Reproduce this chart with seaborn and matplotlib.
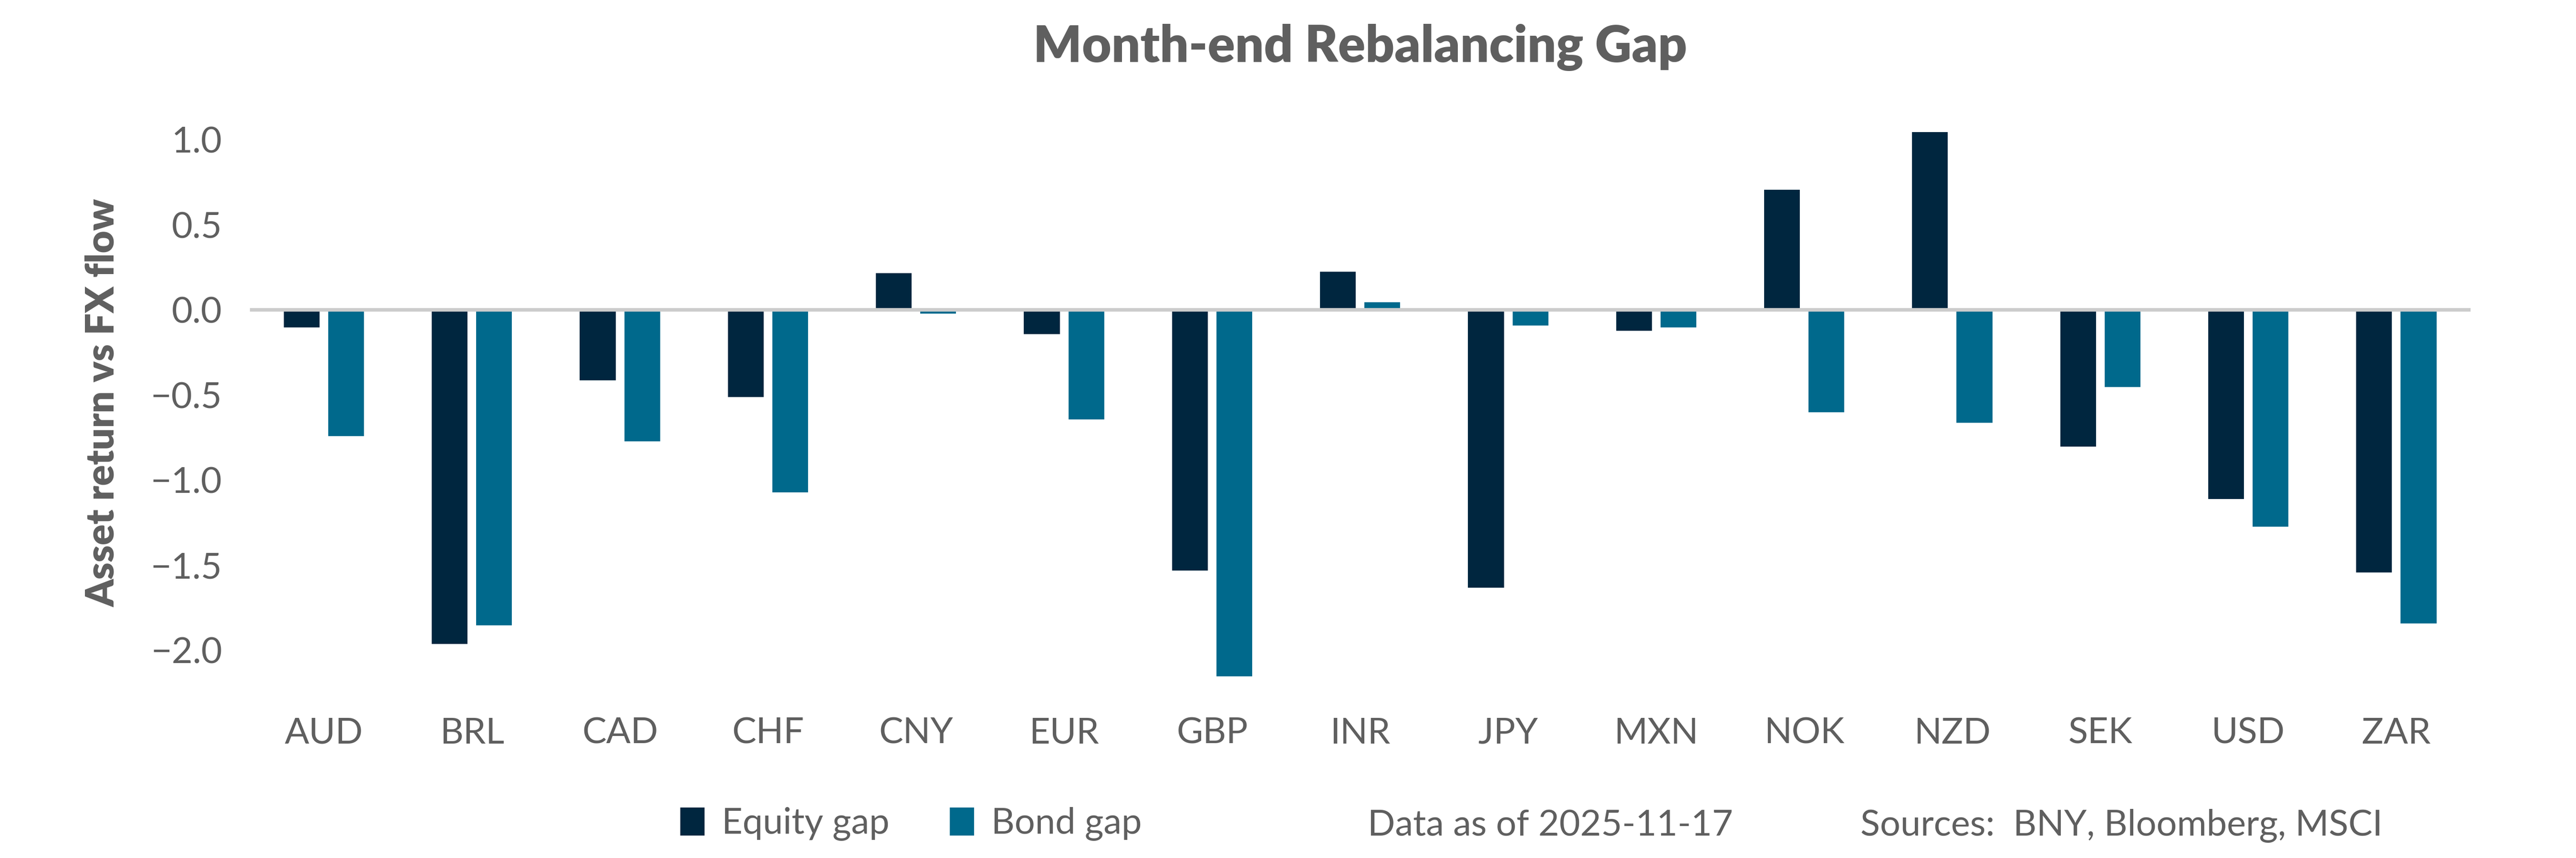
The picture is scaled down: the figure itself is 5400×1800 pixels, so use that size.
import numpy as np
import pandas as pd
import matplotlib
matplotlib.use("Agg")
import matplotlib.pyplot as plt
import seaborn as sns

currencies = ["AUD", "BRL", "CAD", "CHF", "CNY", "EUR", "GBP", "INR",
              "JPY", "MXN", "NOK", "NZD", "SEK", "USD", "ZAR"]
equity_gap = [-0.11, -1.97, -0.42, -0.52, 0.22, -0.15, -1.54, 0.23,
              -1.64, -0.13, 0.71, 1.05, -0.81, -1.12, -1.55]
bond_gap = [-0.75, -1.86, -0.78, -1.08, -0.03, -0.65, -2.16, 0.05,
            -0.10, -0.11, -0.61, -0.67, -0.46, -1.28, -1.85]
series_names = ["Equity gap", "Bond gap"]
y_ticks = [-2.0, -1.5, -1.0, -0.5, 0.0, 0.5, 1.0]

title = "Month-end Rebalancing Gap"
y_label = "Asset return vs FX flow"
data_note = "Data as of 2025-11-17"
sources_note = "Sources:  BNY, Bloomberg, MSCI"

NAVY = "#00263f"
TEAL = "#00698c"
TXT = "#5f5f5f"

df = pd.DataFrame({
    "currency": currencies * 2,
    "series": [series_names[0]] * len(currencies) + [series_names[1]] * len(currencies),
    "value": equity_gap + bond_gap,
})

sns.set_theme(style="white")
plt.rcParams["font.family"] = ["Lato", "DejaVu Sans"]

FS = 18.2

fig = plt.figure(figsize=(18, 6), dpi=300)
ax = fig.add_axes([0.097, 0.183, 0.862, 0.694])

sns.barplot(data=df, x="currency", y="value", hue="series",
            order=currencies, hue_order=series_names,
            palette=[NAVY, TEAL], width=0.6, gap=0.15,
            saturation=1, errorbar=None, ax=ax, zorder=2)

ax.axhline(0, color="#cccccc", lw=1.8, zorder=3)
ax.set_xlim(-0.5, len(currencies) - 0.5)
ax.set_ylim(-2.3, 1.2)
ax.set_yticks(y_ticks)
ax.set_yticklabels([f"{t:.1f}".replace("-", "\u2212") for t in y_ticks])
for s in ax.spines.values():
    s.set_visible(False)
ax.tick_params(axis="both", length=0, labelsize=FS, labelcolor=TXT)
ax.tick_params(axis="y", pad=14)
ax.tick_params(axis="x", pad=8)
ax.set_xlabel("")
ax.set_ylabel(y_label, fontsize=19.5, fontweight="heavy", color=TXT, labelpad=15)
ax.set_title(title, fontsize=25.5, fontweight="heavy", color=TXT, pad=22)

handles, labels = ax.get_legend_handles_labels()
ax.legend_.remove()
leg = fig.legend(handles, labels, loc="center left",
                 bbox_to_anchor=(1424 / 5400, 1 - 1728 / 1800),
                 ncol=2, frameon=False, fontsize=FS,
                 handlelength=0.72, handleheight=0.9, handletextpad=0.45,
                 columnspacing=1.65, borderpad=0, borderaxespad=0)
for t in leg.get_texts():
    t.set_color(TXT)

fig.text(2867 / 5400, 1 - 1753 / 1800, data_note, fontsize=FS,
         color=TXT, ha="left", va="baseline")
fig.text(3900 / 5400, 1 - 1753 / 1800, sources_note, fontsize=FS,
         color=TXT, ha="left", va="baseline")

fig.savefig("out.png", dpi=300, facecolor="white")
